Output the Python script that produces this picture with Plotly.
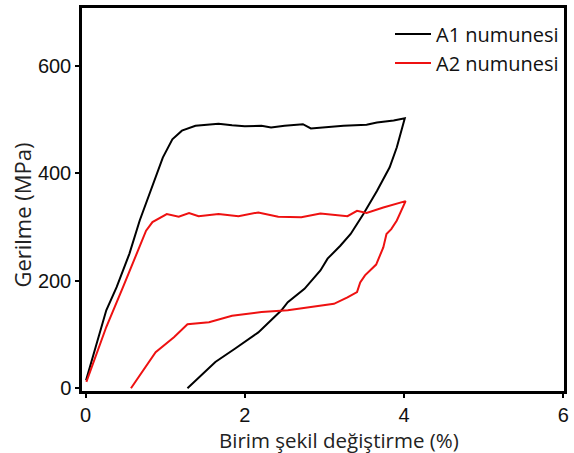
import plotly.graph_objects as go

# A1 numunesi (black)
a1_x = [0.006, 0.14, 0.26, 0.39, 0.55, 0.68, 0.80, 0.97, 1.09, 1.21, 1.38, 1.51, 1.67, 1.84, 2.0,
        2.21, 2.33, 2.5, 2.73, 2.83, 3.24, 3.53, 3.66, 3.87, 4.01,
        3.91, 3.82, 3.66, 3.49, 3.33, 3.20, 3.04, 2.95, 2.75, 2.54, 2.46, 2.17, 1.88, 1.63, 1.28]
a1_y = [15, 83, 145, 188, 250, 312, 361, 429, 463, 479, 488, 490, 492, 489, 487,
        488, 485, 488, 491, 483, 488, 490, 494, 498, 502,
        448, 411, 367, 324, 287, 265, 241, 219, 185, 160, 145, 104, 74, 49, 0]

# A2 numunesi (red)
a2_x = [0.01, 0.26, 0.47, 0.64, 0.76, 0.84, 1.02, 1.17, 1.30, 1.42, 1.67, 1.92, 2.17, 2.42, 2.71,
        2.95, 3.29, 3.41, 3.53, 3.74, 4.02,
        3.91, 3.84, 3.78, 3.74, 3.65, 3.51, 3.45, 3.41, 3.29, 3.12, 2.83, 2.54, 2.21, 1.84, 1.55,
        1.28, 1.11, 0.88, 0.57]
a2_y = [12, 114, 188, 250, 293, 309, 324, 319, 326, 320, 324, 320, 327, 319, 318,
        325, 320, 330, 326, 336, 348,
        312, 296, 287, 262, 230, 210, 197, 179, 169, 157, 151, 145, 142, 135, 123,
        119, 95, 67, 0]

series_names = ["A1 numunesi", "A2 numunesi"]
x_ticks = [0, 2, 4, 6]
y_ticks = [0, 200, 400, 600]

fig = go.Figure()
fig.add_trace(go.Scatter(x=a1_x, y=a1_y, mode="lines", name=series_names[0],
                         line=dict(color="black", width=2), legendgroup="a1"))
fig.add_trace(go.Scatter(x=a2_x, y=a2_y, mode="lines", name=series_names[1],
                         line=dict(color="#ee1111", width=2), legendgroup="a2"))

axis_common = dict(showgrid=False, zeroline=False, showline=True, linecolor="black",
                   linewidth=2.5, mirror=True, ticks="outside", ticklen=4, tickwidth=2,
                   tickcolor="black", tickfont=dict(family="Liberation Sans, Arial", size=20, color="#111"))

fig.update_layout(
    width=574, height=453,
    margin=dict(l=82, r=5, t=7, b=62),
    paper_bgcolor="white", plot_bgcolor="white",
    xaxis=dict(range=[-0.045, 6.01], tickvals=x_ticks, **axis_common),
    yaxis=dict(range=[-5, 707], tickvals=y_ticks, **axis_common),
    legend=dict(x=1.0, y=0.983, xanchor="right", yanchor="top", itemwidth=36,
                bgcolor="rgba(0,0,0,0)", tracegroupgap=0,
                font=dict(family="Open Sans", size=20, color="#111")),
    showlegend=True,
)

fig.add_annotation(text="Birim şekil değiştirme (%)", xref="paper", yref="paper",
                   x=0.534, y=0, yshift=-49, showarrow=False, yanchor="middle",
                   font=dict(family="Open Sans", size=20.5, color="#222"))
fig.add_annotation(text="Gerilme (MPa)", xref="paper", yref="paper",
                   x=0, xshift=-60, y=0.458, showarrow=False, textangle=-90, xanchor="center",
                   font=dict(family="Open Sans", size=22, color="#222"))

fig.write_html("out.html", config={"displayModeBar": False},
               post_script="document.body.style.margin='0';")
